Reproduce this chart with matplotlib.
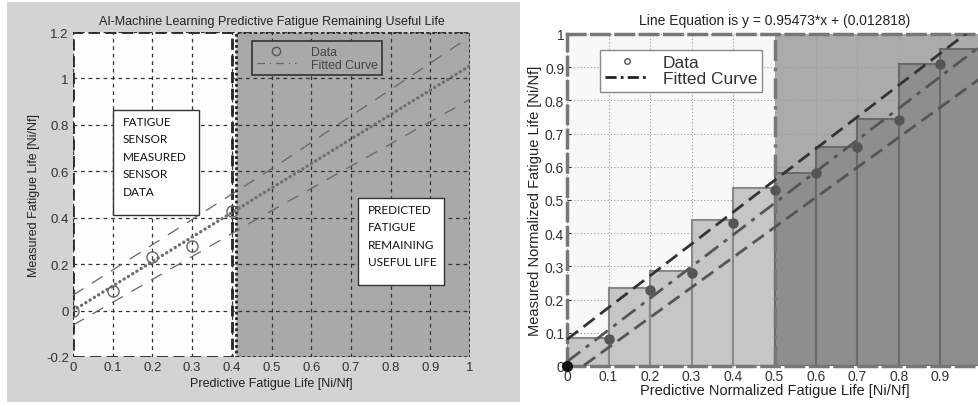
import matplotlib
matplotlib.use("Agg")
import matplotlib.pyplot as plt
from matplotlib.patches import Rectangle
from matplotlib.lines import Line2D

# left panel data
left_x = [0.0, 0.1, 0.2, 0.3, 0.4]
left_y = [0.0, 0.085, 0.23, 0.28, 0.43]
left_fit_x = [0.0, 1.0]
left_fit_y = [0.0, 1.055]
band_x = [0.0, 0.5, 1.0]
band_upper = [0.066, 0.61, 1.18]
band_lower = [-0.063, 0.43, 0.91]

# right panel data
right_x = [0.0, 0.1, 0.2, 0.3, 0.4, 0.5, 0.6, 0.7, 0.8, 0.9, 1.0]
right_y = [0.0, 0.08, 0.23, 0.28, 0.43, 0.53, 0.58, 0.66, 0.74, 0.91, 0.955]
bar_h = [0.085, 0.235, 0.285, 0.44, 0.535, 0.58, 0.66, 0.745, 0.91, 0.955]
slope, intercept = 0.95473, 0.012818
upper_y = [0.08, 1.038]
lower_y = [-0.035, 0.87]
line_x = [0.0, 1.0]

W, H = 979, 406
fig = plt.figure(figsize=(W / 100, H / 100), dpi=100)
fig.patch.set_facecolor("white")

# gray backdrop of the left figure
fig.add_artist(Rectangle((7 / W, 1 - 403 / H), 513 / W, 400 / H,
                         transform=fig.transFigure, facecolor="#d3d3d3",
                         edgecolor="none", zorder=0))

def px_axes(l, r, t, b):
    return fig.add_axes([l / W, 1 - b / H, (r - l) / W, (b - t) / H])

arial = "Liberation Sans"

# ---------------- left panel ----------------
ax = px_axes(73, 470, 33, 358)
ax.set_xlim(0, 1)
ax.set_ylim(-0.2, 1.2)
ax.set_facecolor("white")
ax.add_patch(Rectangle((0, -0.2), 0.4, 1.4, facecolor="#fdfdfd",
                       edgecolor="#222222", lw=2, ls=(0, (4, 2)), zorder=0.5))
ax.add_patch(Rectangle((0.41, -0.2), 0.59, 1.4, facecolor="#a9a9a9",
                       edgecolor="#222222", lw=2, ls=(0, (1, 1)), zorder=0.5))
ax.set_xticks([0, 0.1, 0.2, 0.3, 0.4, 0.5, 0.6, 0.7, 0.8, 0.9, 1])
ax.set_xticklabels(["0", "0.1", "0.2", "0.3", "0.4", "0.5", "0.6", "0.7", "0.8", "0.9", "1"])
ax.set_yticks([-0.2, 0, 0.2, 0.4, 0.6, 0.8, 1, 1.2])
ax.set_yticklabels(["-0.2", "0", "0.2", "0.4", "0.6", "0.8", "1", "1.2"])
ax.grid(True, color="#333333", ls=(0, (3, 3)), lw=0.9, zorder=1)
ax.set_axisbelow(False)
for s in ax.spines.values():
    s.set_visible(False)
ax.tick_params(direction="in", length=0, labelsize=9.5, colors="#333333", pad=3)
for lab in ax.get_xticklabels() + ax.get_yticklabels():
    lab.set_family(arial)

ax.plot(band_x, band_upper, color="#666666", lw=0.9, ls=(0, (10, 8)), zorder=3)
ax.plot(band_x, band_lower, color="#666666", lw=0.9, ls=(0, (10, 8)), zorder=3)
ax.plot(left_fit_x, left_fit_y, color="#6e6e6e", lw=2.4, ls=(0, (0.05, 1.45)),
        dash_capstyle="round", zorder=3)
ax.plot(left_x, left_y, "o", mfc="none", mec="#666666", ms=8, mew=1, zorder=4)

ax.set_title("AI-Machine Learning Predictive Fatigue Remaining Useful Life",
             fontsize=9, family=arial, color="#222222", pad=6)
ax.set_xlabel("Predictive Fatigue Life [Ni/Nf]", fontsize=9, family=arial,
              color="#222222", labelpad=3)
ax.set_ylabel("Measured Fatigue Life [Ni/Nf]", fontsize=9, family=arial,
              color="#222222", labelpad=4)

handles = [Line2D([], [], marker="o", ls="none", mfc="none", mec="#555555", ms=6),
           Line2D([], [], color="#666666", lw=0.9, ls=(0, (6, 4, 1, 4)))]
leg = ax.legend(handles, ["Data", "Fitted Curve"], loc="upper left",
                bbox_to_anchor=(0.451, 0.972), frameon=True, borderaxespad=0,
                fancybox=False, facecolor="#a9a9a9", edgecolor="#333333",
                framealpha=1, borderpad=0.4, handlelength=3.2, handletextpad=1.2,
                labelspacing=0.05, prop={"family": arial, "size": 8.8})
leg.get_frame().set_linewidth(1.2)
for t in leg.get_texts():
    t.set_color("#444444")

def text_box(x0, x1, y0, y1, lines, y_first):
    ax.add_patch(Rectangle((x0, y0), x1 - x0, y1 - y0, transform=ax.transAxes,
                           facecolor="white", edgecolor="#333333", lw=1, zorder=5))
    ax.text(x0 + 0.025, y_first, lines, transform=ax.transAxes, va="top",
            ha="left", fontsize=8.5, family="Lato", linespacing=1.72,
            color="#111111", zorder=6)

text_box((113 - 73) / 397, (199 - 73) / 397, (358 - 216) / 325, (358 - 111) / 325,
         "FATIGUE\nSENSOR\nMEASURED\nSENSOR\nDATA", (358 - 117) / 325)
text_box((358 - 73) / 397, (444 - 73) / 397, (358 - 286) / 325, (358 - 199) / 325,
         "PREDICTED\nFATIGUE\nREMAINING\nUSEFUL LIFE", (358 - 205) / 325)

# ---------------- right panel ----------------
bx = px_axes(567, 982, 35, 367)
bx.set_xlim(0, 1)
bx.set_ylim(0, 1)
bx.set_facecolor("#f8f8f8")
bx.axvspan(0.5, 1.0, color="#ababab", zorder=0.5, lw=0)
bx.set_xticks([0, 0.1, 0.2, 0.3, 0.4, 0.5, 0.6, 0.7, 0.8, 0.9, 1])
# the "1" at the right end falls outside the picture
bx.set_xticklabels(["0", "0.1", "0.2", "0.3", "0.4", "0.5", "0.6", "0.7", "0.8", "0.9", ""])
bx.set_yticks([0, 0.1, 0.2, 0.3, 0.4, 0.5, 0.6, 0.7, 0.8, 0.9, 1])
bx.set_yticklabels(["0", "0.1", "0.2", "0.3", "0.4", "0.5", "0.6", "0.7", "0.8", "0.9", "1"])
bx.grid(True, color="#999999", ls=(0, (1, 2)), lw=0.8, zorder=1)
bx.tick_params(direction="in", length=3, labelsize=10, colors="#333333", pad=2)
for lab in bx.get_xticklabels() + bx.get_yticklabels():
    lab.set_family(arial)
for s in bx.spines.values():
    s.set_color("#777777")
    s.set_linewidth(2.5)
    s.set_linestyle((0, (5, 2)))

bar_left = right_x[:-1]
colors = ["#c6c6c6" if x < 0.5 else "#8e8e8e" for x in bar_left]
edges = ["#888888" if x < 0.5 else "#6a6a6a" for x in bar_left]
bx.bar(bar_left, bar_h, width=0.1, align="edge", color=colors, edgecolor=edges,
       lw=1.5, zorder=2)
bx.axvline(0.5, color="#777777", lw=2.5, ls=(0, (6, 2, 1, 2)), zorder=2.5)

bx.plot(line_x, upper_y, color="#333333", lw=2, ls=(0, (5, 2.5)), zorder=3)
bx.plot(line_x, [slope * x + intercept for x in line_x], color="#555555", lw=2,
        ls=(0, (6, 2.5, 1.5, 2.5)), zorder=3)
bx.plot(line_x, lower_y, color="#555555", lw=2, ls=(0, (5, 2.5)), zorder=3)
bx.plot(right_x[1:], right_y[1:], "o", color="#555555", ms=6.5, zorder=4, clip_on=False)
bx.plot(right_x[:1], right_y[:1], "o", color="#111111", ms=7, zorder=4, clip_on=False)

bx.set_title("Line Equation is y = 0.95473*x + (0.012818)", fontsize=10,
             family=arial, color="#222222", pad=7)
bx.set_xlabel("Predictive Normalized Fatigue Life [Ni/Nf]", fontsize=10.5,
              family=arial, color="#222222", labelpad=0)
bx.set_ylabel("Measured Normalized Fatigue Life [Ni/Nf]", fontsize=10.5,
              family=arial, color="#222222", labelpad=2)

handles2 = [Line2D([], [], marker="o", ls="none", mfc="none", mec="#555555", ms=4),
            Line2D([], [], color="#222222", lw=2, ls=(0, (4, 1.5, 1, 1.5)))]
leg2 = bx.legend(handles2, ["Data", "Fitted Curve"], loc="upper left",
                 bbox_to_anchor=(0.08, 0.952), frameon=True, fancybox=False,
                 borderaxespad=0, facecolor="white", edgecolor="#888888",
                 framealpha=1, borderpad=0.3, handlelength=2.5, labelspacing=0.05,
                 prop={"family": arial, "size": 12.5})
for t in leg2.get_texts():
    t.set_color("#333333")

fig.savefig("out.png", dpi=100)
